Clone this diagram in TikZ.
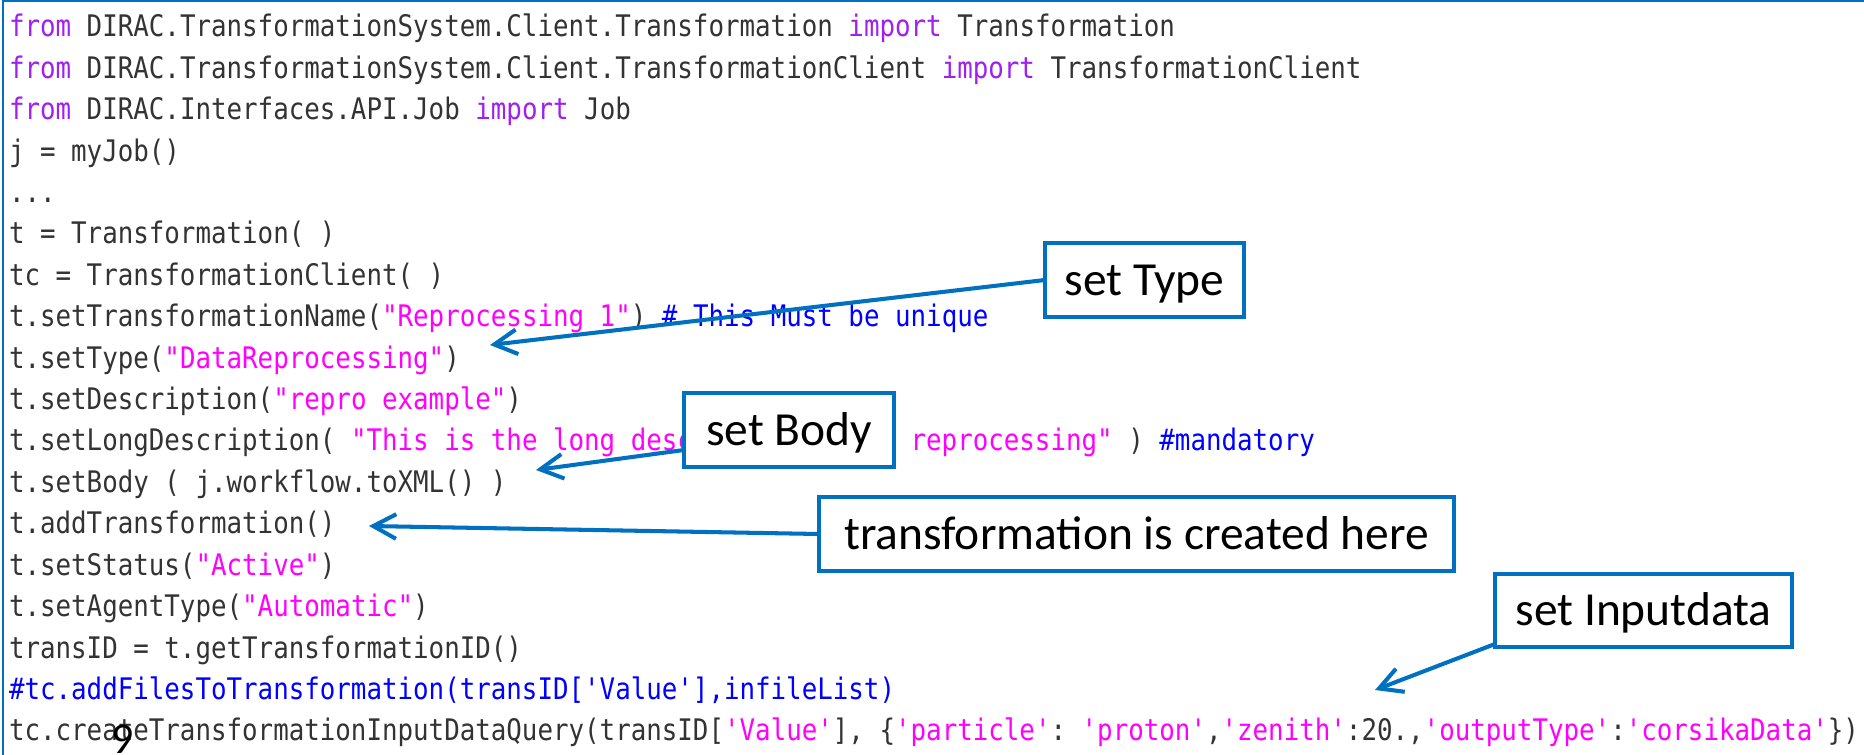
\documentclass[tikz,border=0pt]{standalone}
\usepackage{fontspec}
\setmainfont{Carlito}
\setmonofont{DejaVu Sans Mono}[FakeStretch=0.87]
\usetikzlibrary{arrows.meta,calc}

\definecolor{callblue}{HTML}{0070C0}
\definecolor{codegray}{HTML}{333333}
\definecolor{kwpurple}{HTML}{A020F0}
\definecolor{strmag}{HTML}{FF00FF}
\definecolor{cmtblue}{HTML}{0000FF}

% syntax colouring of the listing
\newcommand{\kwd}[1]{\textcolor{kwpurple}{#1}}
\newcommand{\strg}[1]{\textcolor{strmag}{#1}}
\newcommand{\cmnt}[1]{\textcolor{cmtblue}{#1}}

\tikzset{
  codeline/.style={anchor=base west, inner sep=0pt, outer sep=0pt,
    text=codegray, font=\ttfamily\fontsize{8.44pt}{10pt}\selectfont},
  callout/.style={draw=callblue, line width=1.1pt, fill=white,
    inner sep=0pt, outer sep=0pt, text=black,
    font=\fontsize{13.5pt}{16pt}\selectfont,
    text height=8.7pt, text depth=0pt},
  pointer/.style={callblue, line width=1.15pt, line join=round,
    -{Straight Barb[length=6.5pt,width=7pt]}},
  frameline/.style={callblue, line width=0.7pt}
}

\begin{document}
\begin{tikzpicture}[x=0.01cm, y=-0.01cm]
\useasboundingbox (0,0) rectangle (1864,755);
\fill[white] (0,0) rectangle (1864,755);

% window edges
\draw[frameline] (3,755) -- (3,1) -- (1864,1);

% the script
\node[codeline] (l1)  at (9,37.0)  {\kwd{from} DIRAC.TransformationSystem.Client.Transformation \kwd{import} Transformation};
\node[codeline] (l2)  at (9,78.4)  {\kwd{from} DIRAC.TransformationSystem.Client.TransformationClient \kwd{import} TransformationClient};
\node[codeline] (l3)  at (9,119.8) {\kwd{from} DIRAC.Interfaces.API.Job \kwd{import} Job};
\node[codeline] (l4)  at (9,161.2) {j = myJob()};
\node[codeline] (l5)  at (9,202.6) {...};
\node[codeline] (l6)  at (9,244.0) {t = Transformation( )};
\node[codeline] (l7)  at (9,285.4) {tc = TransformationClient( )};
\node[codeline] (l8)  at (9,326.8) {t.setTransformationName(\strg{"Reprocessing 1"}) \cmnt{\# This Must be unique}};
\node[codeline] (l9)  at (9,368.2) {t.setType(\strg{"DataReprocessing"})};
\node[codeline] (l10) at (9,409.6) {t.setDescription(\strg{"repro example"})};
\node[codeline] (l11) at (9,451.0) {t.setLongDescription( \strg{"This is the long description for a reprocessing"} ) \cmnt{\#mandatory}};
\node[codeline] (l12) at (9,492.4) {t.setBody ( j.workflow.toXML() )};
\node[codeline] (l13) at (9,533.8) {t.addTransformation()};
\node[codeline] (l14) at (9,575.2) {t.setStatus(\strg{"Active"})};
\node[codeline] (l15) at (9,616.6) {t.setAgentType(\strg{"Automatic"})};
\node[codeline] (l16) at (9,658.0) {transID = t.getTransformationID()};
\node[codeline] (l17) at (9,699.4) {\cmnt{\#tc.addFilesToTransformation(transID['Value'],infileList)}};
\node[codeline] (l18) at (9,740.8) {tc.createTransformationInputDataQuery(transID[\strg{'Value'}], \{\strg{'particle'}: \strg{'proton'},\strg{'zenith'}:20.,\strg{'outputType'}:\strg{'corsikaData'}\})};

% where each callout points
\coordinate (typetip)  at (490,345);
\coordinate (bodytip)  at (536,470);
\coordinate (addtip)   at (369,526);
\coordinate (inputtip) at (1375,690);

% callout boxes
\node[callout, minimum width=1.99cm, minimum height=0.74cm] (typebox) at (1144.5,280) {set Type};
\node[callout, minimum width=2.10cm, minimum height=0.74cm] (bodybox) at (789,430) {set Body};
\node[callout, minimum width=6.35cm, minimum height=0.74cm] (addbox) at (1136.5,534) {transformation is created here};
\node[callout, minimum width=2.97cm, minimum height=0.73cm] (inputbox) at (1643.5,610.5) {set Inputdata};

% pointers
\draw[pointer] (typebox.west) -- (typetip);
\draw[pointer] ($(bodybox.west)+(0,20)$) -- (bodytip);
\draw[pointer] (addbox.west) -- (addtip);
\draw[pointer] ($(inputbox.south west)+(0,-3)$) -- (inputtip);

% slide number
\node[anchor=base, inner sep=0pt, font=\fontsize{12.5pt}{14pt}\selectfont] (pagenum) at (123,753) {9};
\end{tikzpicture}
\end{document}
